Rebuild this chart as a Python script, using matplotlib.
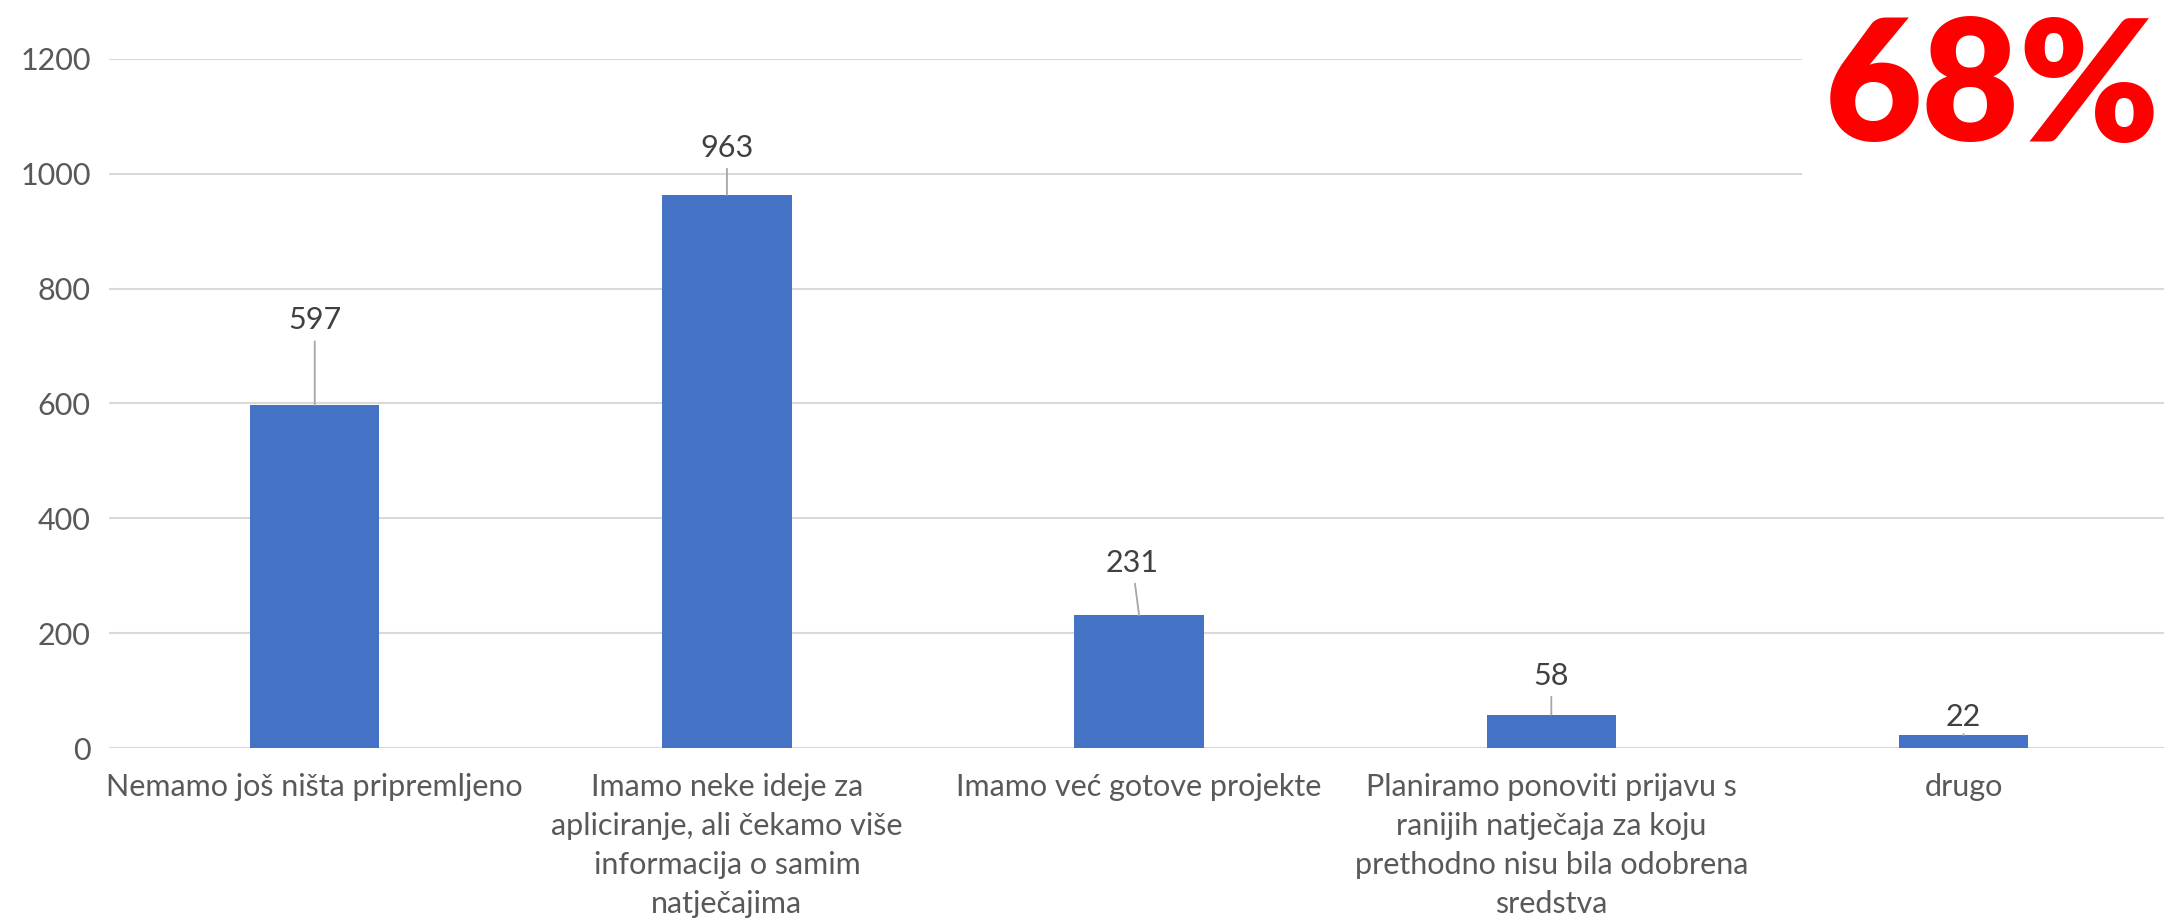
import matplotlib.pyplot as plt
import numpy as np

plt.rcParams['font.family'] = ['Lato', 'DejaVu Sans']

categories = [
    "Nemamo još ništa pripremljeno",
    "Imamo neke ideje za\napliciranje, ali čekamo više\ninformacija o samim\nnatječajima",
    "Imamo već gotove projekte",
    "Planiramo ponoviti prijavu s\nranijih natječaja za koju\nprethodno nisu bila odobrena\nsredstva",
    "drugo",
]
counts = [597, 963, 231, 58, 22]
yticks = [0, 200, 400, 600, 800, 1000, 1200]
highlight = "68%"

# label offsets (dx, dy) in points, as placed in the original
label_offsets = [(0, 61), (0, 34), (-5, 38), (0, 28), (0, 13)]

fig = plt.figure(figsize=(21.64, 9.19), dpi=100)
ax = fig.add_axes([0.0502, 0.186, 0.9524, 0.75])

x = np.arange(len(categories))
ax.bar(x, counts, width=0.314, color="#4472c4", zorder=3)

for xi, val, (dx, dy) in zip(x, counts, label_offsets):
    ax.annotate(str(val), xy=(xi, val), xytext=(dx, dy), textcoords="offset points",
                ha="center", va="center", fontsize=22, color="#404040",
                arrowprops=dict(arrowstyle="-", color="#a6a6a6", lw=1.3,
                                shrinkA=3, shrinkB=0))

ax.set_xlim(-0.5, len(categories) - 0.5)
ax.set_ylim(0, 1200)
ax.set_yticks(yticks)
ax.set_xticks(x)
ax.set_xticklabels(categories, fontsize=22, color="#595959", linespacing=1.48)
ax.tick_params(axis="y", labelsize=22, labelcolor="#595959", length=0, pad=13)
ax.tick_params(axis="x", length=0, pad=18)
ax.grid(axis="y", color="#d9d9d9", lw=1.5, zorder=0)
for s in ax.spines.values():
    s.set_visible(False)

fig.text(0.998, 0.985, highlight, ha="right", va="top", fontsize=121,
         fontweight="heavy", color="#ff0000",
         bbox=dict(facecolor="white", edgecolor="none", pad=16))

plt.savefig("out.png", dpi=100)
